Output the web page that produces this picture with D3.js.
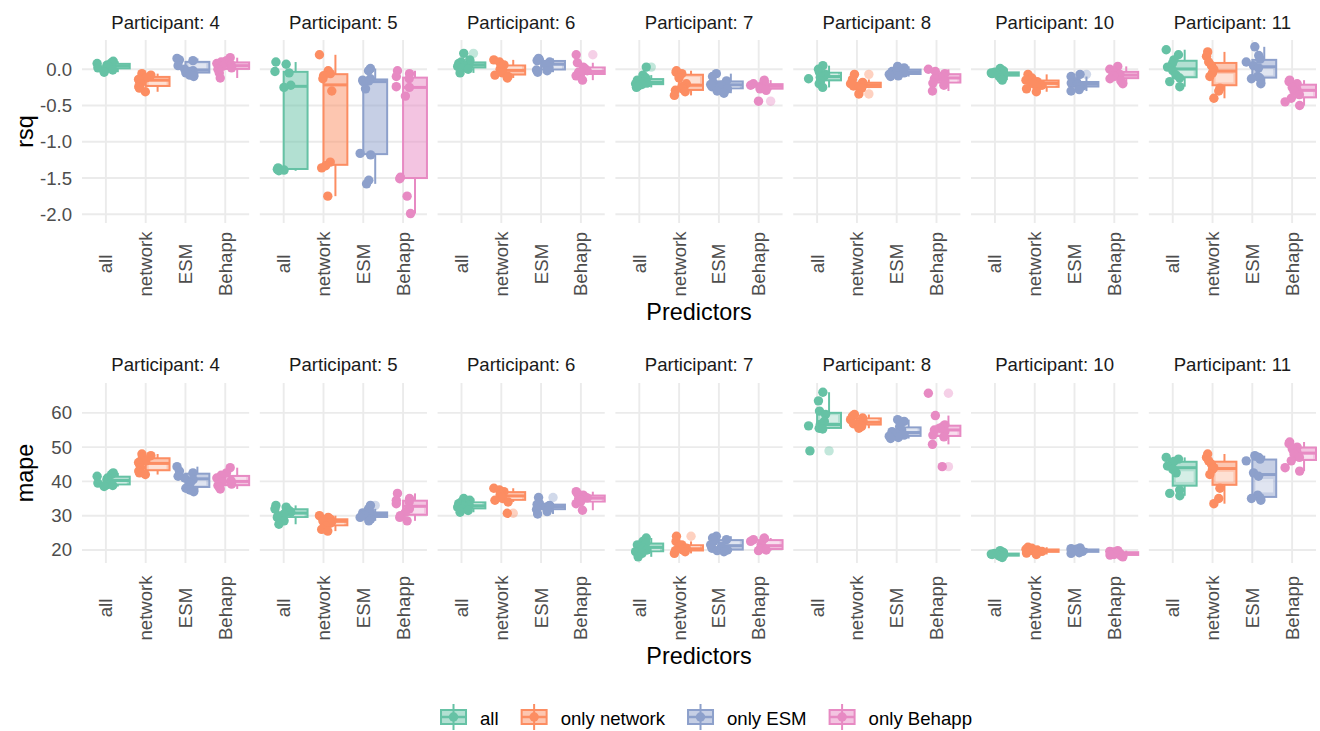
<!DOCTYPE html>
<html>
<head>
<meta charset="utf-8">
<script src="https://cdn.jsdelivr.net/npm/d3@7"></script>
<style>
body { margin: 0; background: #fff; }
svg text { font-family: "Liberation Sans", Arial, Helvetica, sans-serif; }
</style>
</head>
<body>
<svg id="chart" width="1320" height="731"></svg>
<script>
// ---- data ----
const participants = [4, 5, 6, 7, 8, 10, 11];
const predictors = ["all", "network", "ESM", "Behapp"];
const seriesNames = ["all", "only network", "only ESM", "only Behapp"];
const colors = ["#66C2A5", "#FC8D62", "#8DA0CB", "#E78AC3"];
const rsqTicks = [-2.0, -1.5, -1.0, -0.5, 0.0];
const mapeTicks = [20, 30, 40, 50, 60];

// one row per participant, inside: [all, network, ESM, Behapp]
const rsqValues = [
  [[0.11, 0.09, 0.08, 0.06, 0.05, 0.04, 0.02, 0.01, -0.01, -0.04],
   [-0.06, -0.08, -0.10, -0.12, -0.14, -0.16, -0.20, -0.24, -0.26, -0.31],
   [0.15, 0.13, 0.12, 0.05, 0.0, -0.02, -0.03, -0.05, -0.08, -0.10],
   [0.16, 0.12, 0.10, 0.08, 0.06, 0.04, 0.02, 0.0, -0.05, -0.12]],
  [[0.10, 0.07, -0.03, -0.05, -0.22, -0.25, -1.36, -1.38, -1.39, -1.40],
   [0.20, -0.02, -0.06, -0.09, -0.13, -0.30, -1.28, -1.33, -1.36, -1.75],
   [0.01, -0.02, -0.13, -0.15, -0.16, -0.17, -0.27, -1.16, -1.18, -1.53, -1.58],
   [-0.02, -0.06, -0.10, -0.13, -0.24, -0.25, -0.37, -1.49, -1.51, -1.75, -1.99]],
  [[0.22, 0.13, 0.10, 0.08, 0.07, 0.05, 0.04, 0.02, 0.0, -0.05],
   [0.13, 0.10, 0.06, 0.03, 0.0, -0.03, -0.05, -0.08, -0.10, -0.12],
   [0.15, 0.13, 0.12, 0.10, 0.08, 0.06, 0.02, -0.01, -0.02, -0.04],
   [0.20, 0.09, 0.03, 0.01, -0.02, -0.04, -0.05, -0.07, -0.09, -0.15]],
  [[0.03, -0.08, -0.12, -0.15, -0.17, -0.18, -0.19, -0.20, -0.21, -0.23, -0.25],
   [-0.02, -0.04, -0.06, -0.12, -0.20, -0.24, -0.27, -0.29, -0.31, -0.36],
   [-0.06, -0.10, -0.16, -0.19, -0.21, -0.22, -0.24, -0.27, -0.30, -0.33],
   [-0.15, -0.18, -0.20, -0.22, -0.23, -0.24, -0.26, -0.27, -0.29, -0.44]],
  [[0.05, 0.0, -0.04, -0.07, -0.09, -0.11, -0.13, -0.16, -0.20, -0.25],
   [-0.07, -0.14, -0.18, -0.20, -0.21, -0.22, -0.23, -0.25, -0.26, -0.34],
   [0.04, 0.02, 0.0, -0.02, -0.03, -0.04, -0.05, -0.07, -0.09, -0.10],
   [0.0, -0.03, -0.06, -0.09, -0.11, -0.13, -0.16, -0.19, -0.22, -0.30]],
  [[0.01, -0.02, -0.04, -0.05, -0.06, -0.07, -0.08, -0.09, -0.12, -0.15],
   [-0.07, -0.12, -0.15, -0.17, -0.19, -0.20, -0.22, -0.25, -0.27, -0.31],
   [-0.07, -0.10, -0.17, -0.19, -0.20, -0.21, -0.23, -0.24, -0.28, -0.30],
   [0.04, 0.0, -0.03, -0.05, -0.07, -0.09, -0.10, -0.13, -0.16, -0.20]],
  [[0.27, 0.20, 0.13, 0.08, 0.03, -0.02, -0.08, -0.12, -0.17, -0.24],
   [0.24, 0.18, 0.10, 0.05, 0.0, -0.05, -0.10, -0.26, -0.30, -0.40],
   [0.31, 0.19, 0.14, 0.10, 0.05, 0.02, -0.10, -0.12, -0.13, -0.20],
   [-0.15, -0.17, -0.20, -0.25, -0.28, -0.30, -0.35, -0.40, -0.45, -0.50]]
];

const mapeValues = [
  [[42.5, 42, 41.5, 41, 40.5, 40, 39.5, 39, 38.8, 38.5],
   [48, 47.5, 47, 46, 45.5, 45, 44, 43, 42.5, 42],
   [44.3, 43, 42.5, 41.5, 41, 40.5, 39.5, 38, 37.5, 37],
   [44, 42.5, 41.8, 41, 40.2, 39.8, 39.2, 38.8, 38.3, 37.8]],
  [[33, 32.5, 32, 31.5, 31, 30.5, 30, 29.5, 28.5, 27.5],
   [30, 29.5, 29, 28.8, 28.5, 28.2, 27.8, 27, 26, 25.5],
   [33, 32, 31, 30.8, 30.5, 30.2, 30, 29.5, 29, 28.5],
   [36.5, 35, 34.5, 34, 33.5, 32, 31, 30, 29.5, 28.5]],
  [[35, 34.5, 34, 33.5, 33, 32.8, 32.5, 32, 31.5, 31],
   [38, 37.5, 37, 36.5, 36, 35.5, 35, 34.5, 34, 30.7],
   [35.3, 33.6, 33.3, 33, 32.8, 32.5, 32.2, 31.8, 31.2, 30.5],
   [37, 36.5, 36, 35.5, 35.2, 35, 34.5, 34, 33.5, 31.6]],
  [[23.5, 22.5, 22, 21.5, 21, 20.5, 20, 19.5, 19, 18],
   [24, 22.5, 21.5, 21, 20.5, 20.2, 20, 19.8, 19.5, 19],
   [24, 23.5, 23, 22.5, 21.5, 21, 20.5, 20, 19.8, 19.5],
   [23.5, 23.3, 23, 22.5, 21.5, 21, 20.5, 20.2, 20, 19.8]],
  [[66, 63.5, 60.5, 59.5, 57.5, 56.6, 56.2, 55.7, 55.5, 55.3, 48.9],
   [59.5, 59, 58.5, 58, 57.5, 57, 56.8, 56.5, 56, 55.5],
   [58, 57.5, 56, 55, 54.5, 54, 53.5, 53.2, 52.8, 52.5],
   [65.7, 59.2, 56.5, 56, 55.5, 55, 54.5, 53.5, 53, 50.8, 44.3]],
  [[19.8, 19.3, 19, 18.8, 18.7, 18.6, 18.5, 18.3, 18.1, 17.8],
   [20.8, 20.5, 20.2, 20, 19.9, 19.8, 19.6, 19.4, 19.1, 18.7],
   [20.6, 20.4, 20.2, 20, 19.9, 19.8, 19.6, 19.4, 19.2, 19],
   [19.8, 19.6, 19.4, 19.2, 19, 18.9, 18.7, 18.5, 18.3, 18]],
  [[47, 46.5, 45.8, 45.5, 44.5, 43.5, 42.5, 37.5, 36.5, 35.8],
   [48, 47, 46, 45, 44, 43.5, 42, 38, 35, 33.5],
   [47.5, 47, 46.5, 46, 42.5, 41.5, 36, 35.3, 35, 34.5],
   [51.5, 51, 50, 49.5, 48.5, 48, 47, 46, 44, 43]]
];

// ---- layout ----
const SVG = d3.select("#chart");
const SMALL = 18.6;
const BIG = 23.4;
const GRID = "#ebebeb";
const PT_R = 4.7;

const FACET = d3.scaleBand()
    .domain(participants)
    .range([82, 1316])
    .paddingInner(0.06);

// small deterministic jitter for point placement
function jitter(pi, k, i) {
    const s = Math.sin((pi * 97 + k * 31 + i * 13 + 1) * 12.9898) * 43758.5453;
    return (s - Math.floor(s)) * 2 - 1;
}

function boxStats(vals) {
    const s = vals.slice().sort(d3.ascending);
    const q1 = d3.quantile(s, 0.25);
    const med = d3.quantile(s, 0.5);
    const q3 = d3.quantile(s, 0.75);
    const iqr = q3 - q1;
    const inside = s.filter(v => v >= q1 - 1.5 * iqr && v <= q3 + 1.5 * iqr);
    return {
        q1: q1, med: med, q3: q3,
        lo: d3.min(inside), hi: d3.max(inside),
        out: s.filter(v => v < q1 - 1.5 * iqr || v > q3 + 1.5 * iqr)
    };
}

function drawRow(cfg) {
    const Y = d3.scaleLinear().domain(cfg.domain).range([cfg.bottom, cfg.top]);
    const row = SVG.append("g");

    participants.forEach((p, pi) => {
        const x0 = FACET(p);
        const bw = FACET.bandwidth();
        const X = d3.scalePoint().domain(predictors).range([x0, x0 + bw]).padding(0.6);
        const u = X.step();
        const g = row.append("g");

        // grid
        g.selectAll(".hgrid").data(cfg.ticks).enter().append("line")
            .attr("x1", x0).attr("x2", x0 + bw)
            .attr("y1", d => Y(d)).attr("y2", d => Y(d))
            .attr("stroke", GRID).attr("stroke-width", 1.9);
        g.selectAll(".vgrid").data(predictors).enter().append("line")
            .attr("x1", d => X(d)).attr("x2", d => X(d))
            .attr("y1", cfg.top).attr("y2", cfg.bottom)
            .attr("stroke", GRID).attr("stroke-width", 1.9);

        // strip label
        g.append("text")
            .attr("x", x0 + bw / 2).attr("y", cfg.stripY)
            .attr("text-anchor", "middle")
            .attr("font-size", SMALL).attr("fill", "#1a1a1a")
            .text("Participant: " + p);

        // x tick labels
        g.selectAll(".xlab").data(predictors).enter().append("text")
            .attr("transform", d => "translate(" + X(d) + "," + cfg.xLabY + ") rotate(-90)")
            .attr("text-anchor", "middle")
            .attr("dominant-baseline", "central")
            .attr("font-size", SMALL).attr("fill", "#4d4d4d")
            .text(d => d);

        // y tick labels only on first panel
        if (pi === 0) {
            g.selectAll(".ylab").data(cfg.ticks).enter().append("text")
                .attr("x", x0 - 10).attr("y", d => Y(d))
                .attr("text-anchor", "end")
                .attr("dominant-baseline", "central")
                .attr("font-size", SMALL).attr("fill", "#4d4d4d")
                .text(cfg.fmt);
        }

        predictors.forEach((pred, k) => {
            const vals = cfg.values[pi][k];
            const st = boxStats(vals);
            const col = colors[k];
            const bx = X(pred);
            const bwid = 0.6 * u;
            const cx = bx + bwid / 2;

            // whiskers
            g.append("line")
                .attr("x1", cx).attr("x2", cx)
                .attr("y1", Y(st.q3)).attr("y2", Y(st.hi))
                .attr("stroke", col).attr("stroke-width", 2);
            g.append("line")
                .attr("x1", cx).attr("x2", cx)
                .attr("y1", Y(st.q1)).attr("y2", Y(st.lo))
                .attr("stroke", col).attr("stroke-width", 2);

            // box
            const boxH = Y(st.q1) - Y(st.q3);
            g.append("rect")
                .attr("x", bx).attr("y", Y(st.q3))
                .attr("width", bwid)
                .attr("height", Math.max(0.5, boxH))
                .attr("fill", col).attr("fill-opacity", 0.5)
                .attr("stroke", col).attr("stroke-width", 2);

            // lighter inner band on the wider half (small boxes only)
            const far = (st.q3 - st.med > st.med - st.q1) ? st.q3 : st.q1;
            const yA = Y(st.med + 0.2 * (far - st.med));
            const yB = Y(st.med + 0.8 * (far - st.med));
            if (Math.abs(yA - yB) > 2 && boxH < 40) {
                g.append("rect")
                    .attr("x", bx + 3).attr("y", Math.min(yA, yB))
                    .attr("width", bwid - 6).attr("height", Math.abs(yA - yB))
                    .attr("fill", "#fff").attr("fill-opacity", 0.45);
            }

            // median
            g.append("line")
                .attr("x1", bx).attr("x2", bx + bwid)
                .attr("y1", Y(st.med)).attr("y2", Y(st.med))
                .attr("stroke", col).attr("stroke-width", 3);

            // outliers of the boxplot
            g.selectAll(null).data(st.out).enter().append("circle")
                .attr("cx", cx).attr("cy", d => Y(d))
                .attr("r", PT_R)
                .attr("fill", col).attr("fill-opacity", 0.4);

            // jittered points
            g.selectAll(null).data(vals).enter().append("circle")
                .attr("cx", (d, i) => bx + jitter(pi, k, i) * 0.22 * u)
                .attr("cy", d => Y(d))
                .attr("r", PT_R)
                .attr("fill", col);
        });
    });

    // axis titles
    const midX = (FACET.range()[0] + FACET.range()[1]) / 2;
    row.append("text")
        .attr("x", midX).attr("y", cfg.xTitleY)
        .attr("text-anchor", "middle")
        .attr("dominant-baseline", "central")
        .attr("font-size", BIG).attr("fill", "#000")
        .text("Predictors");
    row.append("text")
        .attr("transform", "translate(25," + ((cfg.top + cfg.bottom) / 2) + ") rotate(-90)")
        .attr("text-anchor", "middle")
        .attr("dominant-baseline", "central")
        .attr("font-size", BIG).attr("fill", "#000")
        .text(cfg.title);
}

drawRow({
    values: rsqValues, ticks: rsqTicks, domain: [-2.12, 0.404],
    top: 40, bottom: 223, stripY: 29, xLabY: 264, xTitleY: 312,
    title: "rsq", fmt: d => d.toFixed(1)
});

drawRow({
    values: mapeValues, ticks: mapeTicks, domain: [16.2, 68.7],
    top: 383, bottom: 563, stripY: 371, xLabY: 608, xTitleY: 656,
    title: "mape", fmt: d => String(d)
});

// ---- legend ----
const LEG_Y = 717;
const KEY_W = 27;
const GAP_TEXT = 13;
const GAP_ITEM = 22;
const legend = SVG.append("g");
const items = legend.selectAll("g").data(seriesNames).enter().append("g");
items.append("text")
    .attr("x", KEY_W + GAP_TEXT).attr("y", LEG_Y + 1)
    .attr("dominant-baseline", "central")
    .attr("font-size", SMALL).attr("fill", "#000")
    .text(d => d);

let offs = [];
let acc = 0;
items.each(function () {
    offs.push(acc);
    const w = d3.select(this).select("text").node().getComputedTextLength();
    acc += KEY_W + GAP_TEXT + w + GAP_ITEM;
});
const total = acc - GAP_ITEM;
const legX = 706 - total / 2;
items.attr("transform", (d, i) => "translate(" + (legX + offs[i]) + ",0)");

items.append("line")
    .attr("x1", KEY_W / 2).attr("x2", KEY_W / 2)
    .attr("y1", LEG_Y - 13).attr("y2", LEG_Y + 13)
    .attr("stroke", (d, i) => colors[i]).attr("stroke-width", 2);
items.append("rect")
    .attr("x", 1).attr("y", LEG_Y - 7)
    .attr("width", KEY_W - 2).attr("height", 14)
    .attr("fill", (d, i) => colors[i]).attr("fill-opacity", 0.5)
    .attr("stroke", (d, i) => colors[i]).attr("stroke-width", 2);
items.append("line")
    .attr("x1", 1).attr("x2", KEY_W - 1)
    .attr("y1", LEG_Y).attr("y2", LEG_Y)
    .attr("stroke", (d, i) => colors[i]).attr("stroke-width", 2.5);
items.append("circle")
    .attr("cx", KEY_W / 2).attr("cy", LEG_Y)
    .attr("r", PT_R)
    .attr("fill", (d, i) => colors[i]);
</script>
</body>
</html>
